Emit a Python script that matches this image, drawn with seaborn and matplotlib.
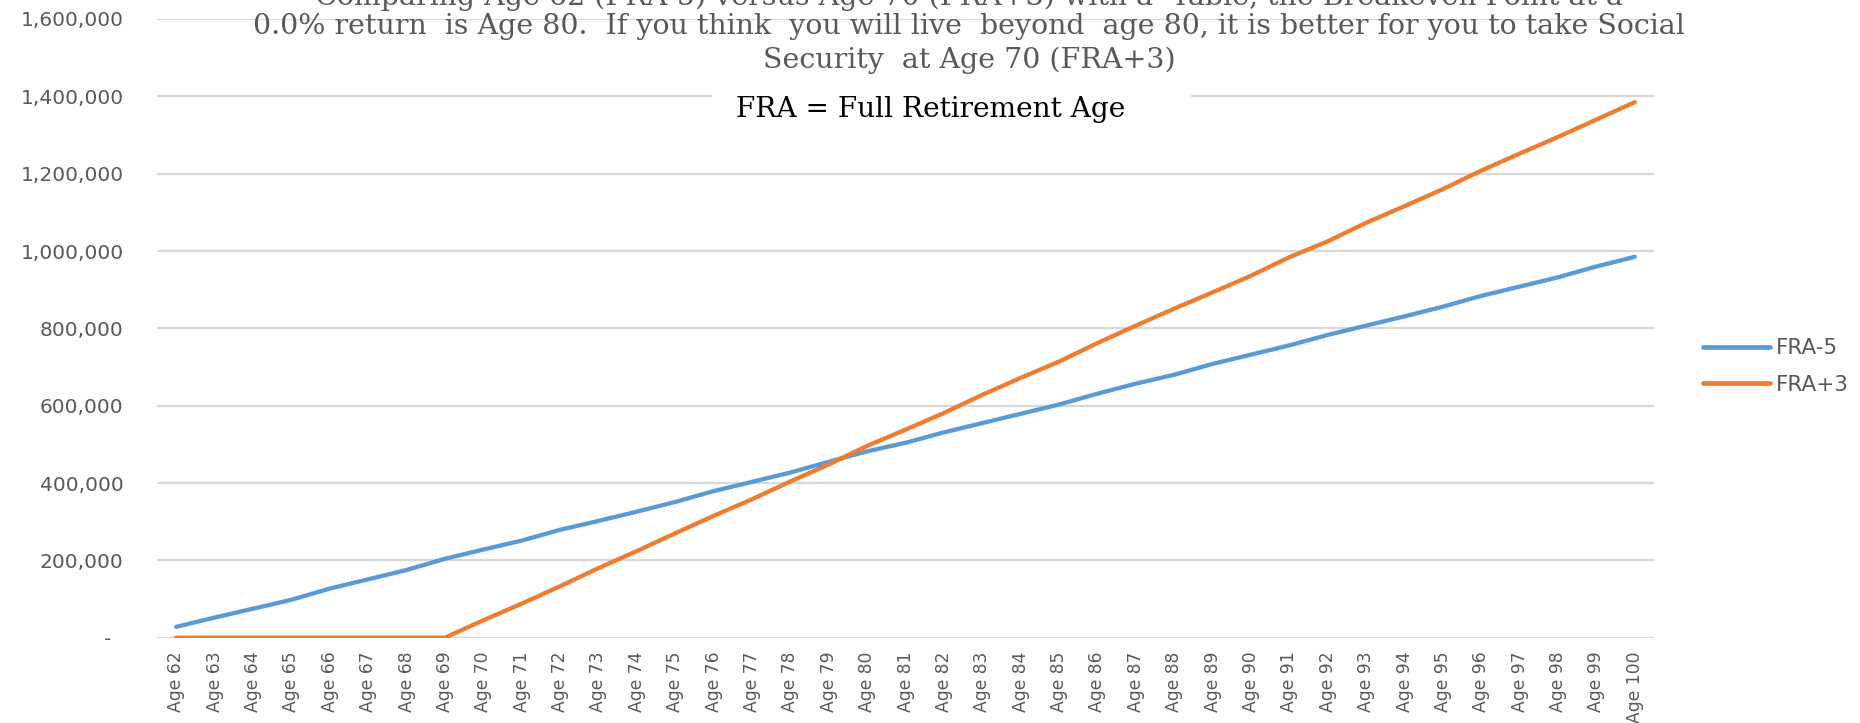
import pandas as pd
import seaborn as sn
import matplotlib.pyplot as plt
from matplotlib import font_manager
from matplotlib.patches import Rectangle
from matplotlib.ticker import FuncFormatter

# cumulative social security benefit, no return
ages = ["Age {}".format(a) for a in range(62, 101)]
fra_minus5 = [28000, 52000, 75000, 98000, 127000, 151000, 175000, 204000,
              228000, 251000, 279000, 302000, 326000, 351000, 379000, 403000,
              427000, 455000, 482000, 504000, 531000, 555000, 579000, 603000,
              631000, 657000, 680000, 708000, 732000, 756000, 783000, 807000,
              831000, 856000, 884000, 908000, 932000, 960000, 985000]
fra_plus3 = [0, 0, 0, 0, 0, 0, 0, 0,
             45000, 88000, 133000, 180000, 224000, 270000, 315000, 358000,
             404000, 448000, 496000, 538000, 581000, 628000, 672000, 714000,
             762000, 807000, 851000, 893000, 936000, 984000, 1025000, 1073000,
             1116000, 1160000, 1208000, 1252000, 1295000, 1340000, 1385000]
series = ["FRA-5", "FRA+3"]
colors = {"FRA-5": "#5B9BD5", "FRA+3": "#ED7D31"}

title_lines = [
    "Comparing Age 62 (FRA-5) versus Age 70 (FRA+3) with a  Table, the Breakeven Point at a",
    "0.0% return  is Age 80.  If you think  you will live  beyond  age 80, it is better for you to take Social",
    "Security  at Age 70 (FRA+3)",
]
title_base = [5, 34, 68]  # baselines in px from the top
note = "FRA = Full Retirement Age"

df = pd.DataFrame({
    "age": ages * 2,
    "value": fra_minus5 + fra_plus3,
    "series": [series[0]] * len(ages) + [series[1]] * len(ages),
})


def has_font(name):
    try:
        font_manager.findfont(font_manager.FontProperties(family=name),
                              fallback_to_default=False)
        return True
    except Exception:
        return False


if has_font("Liberation Sans Narrow"):
    xfont, xsize = "Liberation Sans Narrow", 16.5
else:
    xfont, xsize = "DejaVu Sans", 12.3

sn.set_theme(style="white")
plt.rcParams["font.family"] = ["DejaVu Sans"]

W, H = 1860, 723
fig = plt.figure(figsize=(W / 100, H / 100), dpi=100)
ax = fig.add_axes([157 / W, 1 - 637.7 / H, (1654 - 157) / W, (637.7 - 19) / H])

sn.lineplot(data=df, x="age", y="value", hue="series", hue_order=series,
            palette=colors, sort=False, linewidth=3.1,
            solid_capstyle="round", ax=ax)

ax.set_xticks(range(len(ages)), ages, rotation=90, fontsize=xsize,
              family=[xfont, "DejaVu Sans"], color="#595959")
ax.set_xlim(-0.5, len(ages) - 0.5)
ax.set_ylim(0, 1600000)
ax.set_yticks(range(0, 1600001, 200000))
ax.yaxis.set_major_formatter(FuncFormatter(
    lambda v, p: "-  " if v == 0 else "{:,.0f}".format(v)))
ax.set_xlabel("")
ax.set_ylabel("")
for s in ax.spines.values():
    s.set_visible(False)
ax.yaxis.grid(True, color="#d9d9d9", linewidth=1.6)
ax.xaxis.grid(False)
ax.set_axisbelow(True)

ax.tick_params(axis="y", length=0, pad=24, labelsize=14.5, labelcolor="#595959")
ax.tick_params(axis="x", length=0, pad=10)

leg = ax.legend(loc="center left", bbox_to_anchor=(1703 / W, 1 - 366.5 / H),
                bbox_transform=fig.transFigure, frameon=False,
                fontsize=15.5, handlelength=3.1, handletextpad=0.3,
                labelspacing=0.75, borderpad=0, borderaxespad=0)
for t in leg.get_texts():
    t.set_color("#595959")
for h in leg.legend_handles:
    h.set_linewidth(3.4)
    h.set_solid_capstyle("round")

# title (top line runs off the canvas, as in the source)
for line, base in zip(title_lines, title_base):
    fig.text(969 / W, 1 - base / H, line, ha="center", va="baseline",
             family="DejaVu Serif", fontsize=20.5, color="#595959")

fig.add_artist(Rectangle((712 / W, 1 - 126 / H), (1191 - 712) / W, 46 / H,
                         transform=fig.transFigure, facecolor="white",
                         edgecolor="none"))
fig.text(931 / W, 1 - 117 / H, note, ha="center", va="baseline",
         family="DejaVu Serif", fontsize=20.2, color="black")

plt.savefig("out.png", dpi=100)
